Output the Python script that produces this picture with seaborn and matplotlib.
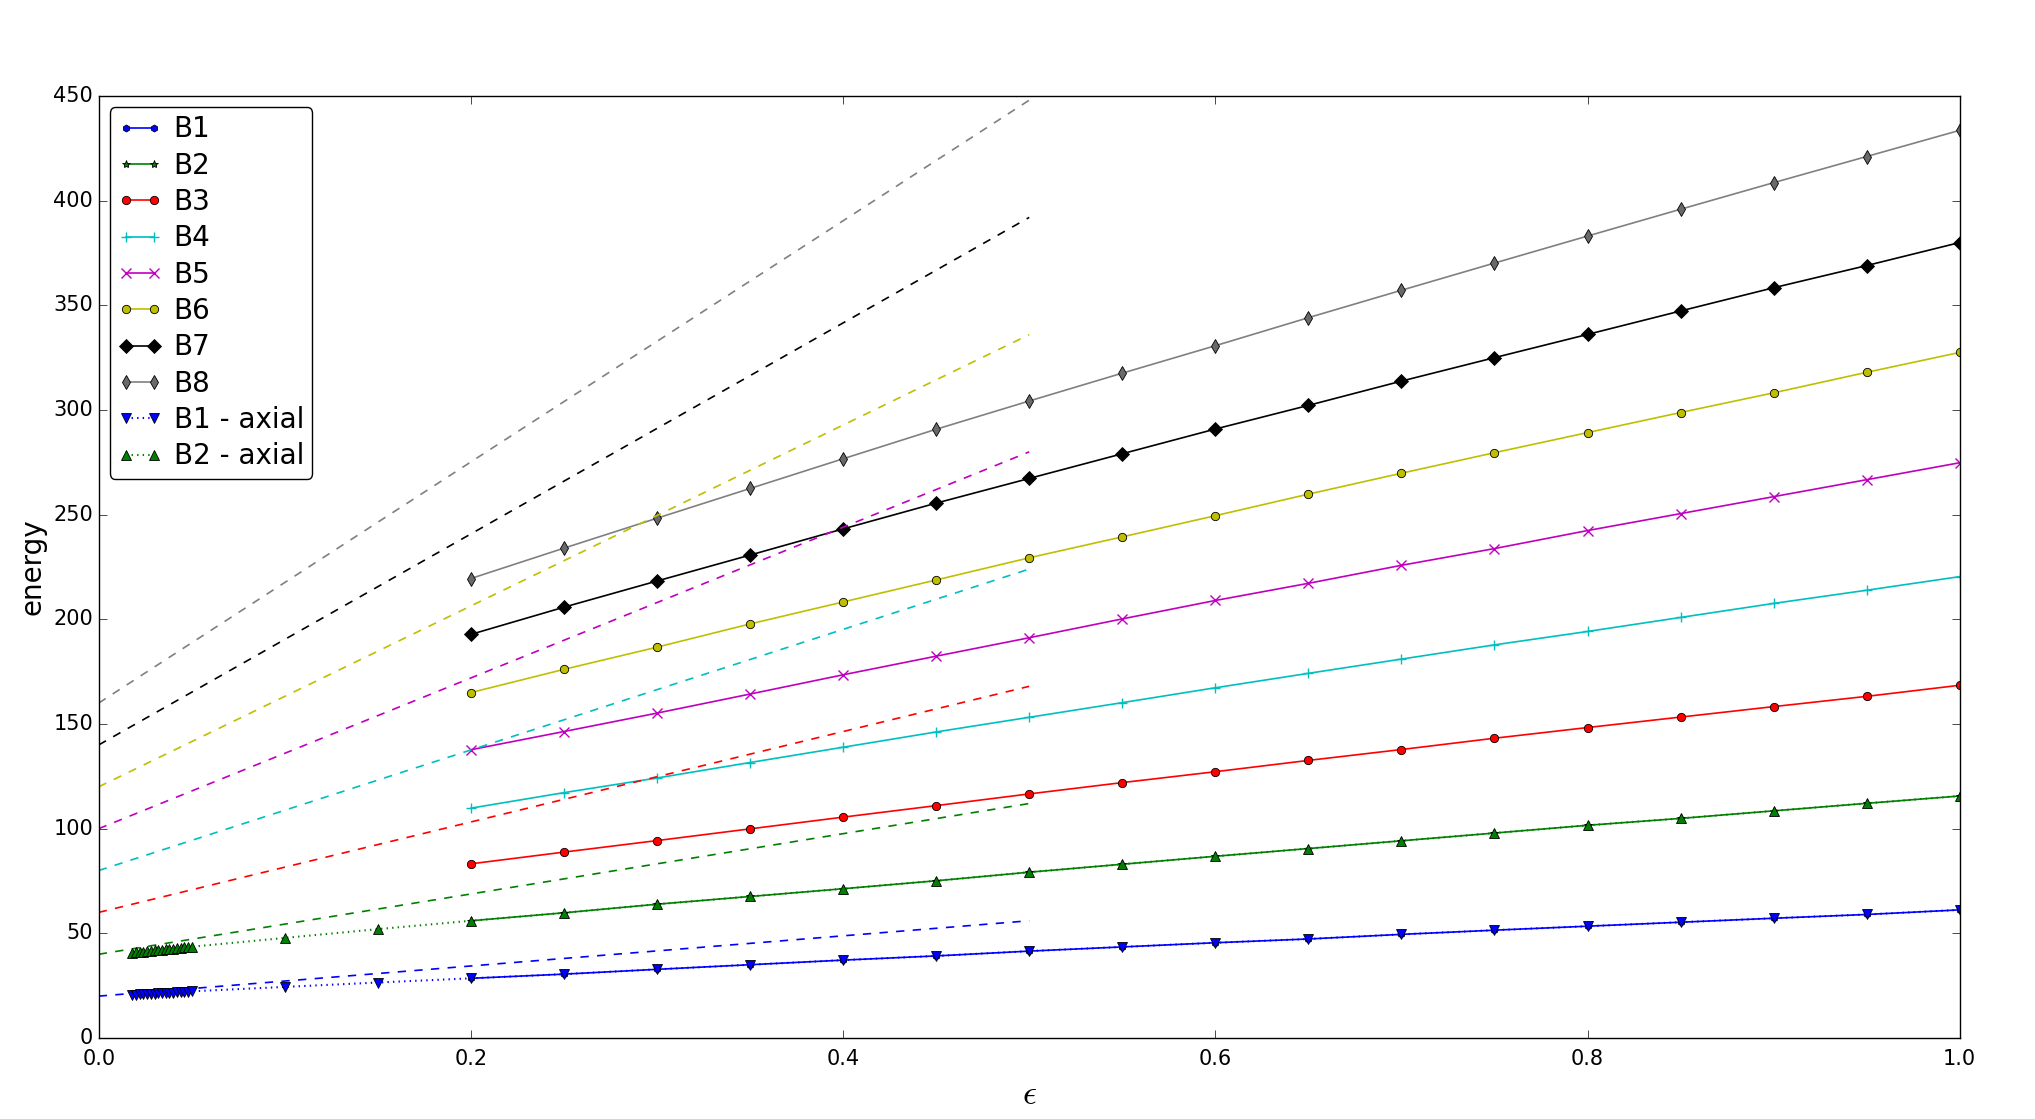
import pandas as pd
import seaborn as sns
import matplotlib.pyplot as plt

plt.style.use("classic")

eps = [0.2, 0.25, 0.3, 0.35, 0.4, 0.45, 0.5, 0.55, 0.6, 0.65, 0.7, 0.75, 0.8, 0.85, 0.9, 0.95, 1.0]

b1 = [28.5, 30.5, 32.8, 35.0, 37.2, 39.2, 41.5, 43.5, 45.5, 47.3, 49.5, 51.5, 53.4, 55.3, 57.2, 59.0, 61.2]
b2 = [56.0, 59.8, 63.9, 67.6, 71.3, 75.1, 79.2, 83.0, 86.8, 90.5, 94.2, 97.9, 101.6, 104.9, 108.5, 112.1, 115.6]
b3 = [83.2, 88.8, 94.3, 99.9, 105.5, 111.0, 116.6, 122.0, 127.2, 132.6, 137.8, 143.2, 148.3, 153.3, 158.3, 163.2, 168.5]
b4 = [109.8, 117.2, 124.2, 131.6, 138.9, 146.2, 153.2, 160.2, 167.3, 174.2, 181.0, 187.8, 194.2, 200.9, 207.6, 213.9, 220.4]
b5 = [137.7, 146.4, 155.2, 164.3, 173.5, 182.4, 191.2, 200.2, 209.0, 217.2, 225.8, 233.8, 242.4, 250.5, 258.6, 266.7, 274.8]
b6 = [165.0, 176.1, 186.7, 197.8, 208.3, 218.8, 229.4, 239.4, 249.5, 259.8, 269.8, 279.6, 289.2, 298.8, 308.2, 318.0, 327.5]
b7 = [192.8, 205.8, 218.3, 230.7, 243.2, 255.5, 267.3, 279.1, 290.9, 302.2, 313.8, 325.0, 336.1, 347.3, 358.4, 369.0, 380.0]
b8 = [219.5, 234.0, 248.3, 262.5, 276.7, 290.8, 304.3, 317.6, 330.7, 344.1, 357.2, 370.2, 383.1, 395.9, 408.6, 421.1, 433.6]

eps_axial = [0.018, 0.020, 0.022, 0.024, 0.026, 0.028, 0.030, 0.032, 0.034, 0.036, 0.038,
             0.040, 0.042, 0.044, 0.046, 0.048, 0.050, 0.1, 0.15] + eps
b1_axial = [20.6, 20.7, 20.8, 20.9, 21.0, 21.1, 21.2, 21.3, 21.4, 21.5, 21.6,
            21.7, 21.8, 21.9, 22.0, 22.1, 22.3, 24.4, 26.5] + b1
b2_axial = [40.8, 41.0, 41.2, 41.3, 41.5, 41.7, 41.9, 42.0, 42.2, 42.4, 42.6,
            42.7, 42.9, 43.1, 43.3, 43.4, 43.6, 47.8, 52.0] + b2

eps_lin = [0.0, 0.5]
lin_b1 = [20, 56]
lin_b2 = [40, 112]
lin_b3 = [60, 168]
lin_b4 = [80, 224]
lin_b5 = [100, 280]
lin_b6 = [120, 336]
lin_b7 = [140, 392]
lin_b8 = [160, 448]

labels = ["B1", "B2", "B3", "B4", "B5", "B6", "B7", "B8"]
series = [b1, b2, b3, b4, b5, b6, b7, b8]
lins = [lin_b1, lin_b2, lin_b3, lin_b4, lin_b5, lin_b6, lin_b7, lin_b8]
colors = ["b", "g", "r", "c", "m", "y", "k", "gray"]
markers = ["h", "*", "o", "+", "x", "o", "D", "d"]
msizes = [5, 6, 6, 7, 7, 6, 7, 7]

fig = plt.figure(figsize=(20.35, 11.19), dpi=100, facecolor="white")
ax = fig.add_axes([0.0485, 0.0724, 0.9145, 0.8418])

for lab, y, c, m, ms in zip(labels, series, colors, markers, msizes):
    mfc = "dimgray" if lab == "B8" else c
    sns.lineplot(x=eps, y=y, ax=ax, color=c, marker=m, markersize=ms, markerfacecolor=mfc,
                 markeredgecolor=c if m in ["+", "x"] else "black", markeredgewidth=1 if m in ["+", "x"] else 0.6,
                 linewidth=1.2, label=lab, errorbar=None, legend=False)

for y, c in zip(lins, colors):
    sns.lineplot(x=eps_lin, y=y, ax=ax, color=c, linestyle="--", linewidth=1.2, errorbar=None, legend=False)

sns.lineplot(x=eps_axial, y=b1_axial, ax=ax, color="b", marker="v", markersize=7, markerfacecolor="b",
             markeredgecolor="black", markeredgewidth=0.6, linestyle=":", linewidth=1.5,
             label="B1 - axial", errorbar=None, legend=False)
sns.lineplot(x=eps_axial, y=b2_axial, ax=ax, color="g", marker="^", markersize=7, markerfacecolor="g",
             markeredgecolor="black", markeredgewidth=0.6, linestyle=":", linewidth=1.5,
             label="B2 - axial", errorbar=None, legend=False)

ax.set_xlim(0, 1.0)
ax.set_ylim(0, 450)
ax.set_xticks([0.0, 0.2, 0.4, 0.6, 0.8, 1.0])
ax.set_yticks(range(0, 451, 50))
ax.tick_params(labelsize=15, direction="in", top=True, right=True, length=6)
ax.tick_params(axis="x", pad=8)
ax.set_xlabel(r"$\epsilon$", fontsize=25, labelpad=6)
ax.set_ylabel("energy", fontsize=20)

want = labels + ["B1 - axial", "B2 - axial"]
lines = {l.get_label(): l for l in ax.get_lines()}
leg = ax.legend([lines[w] for w in want], want, loc="upper left", fontsize=20, numpoints=2,
                fancybox=True, framealpha=1, borderaxespad=0.4, handlelength=1.6,
                labelspacing=0.3, handletextpad=0.4, borderpad=0.3)
leg.get_frame().set_edgecolor("black")

fig.savefig("out.png", dpi=100, facecolor="white")
